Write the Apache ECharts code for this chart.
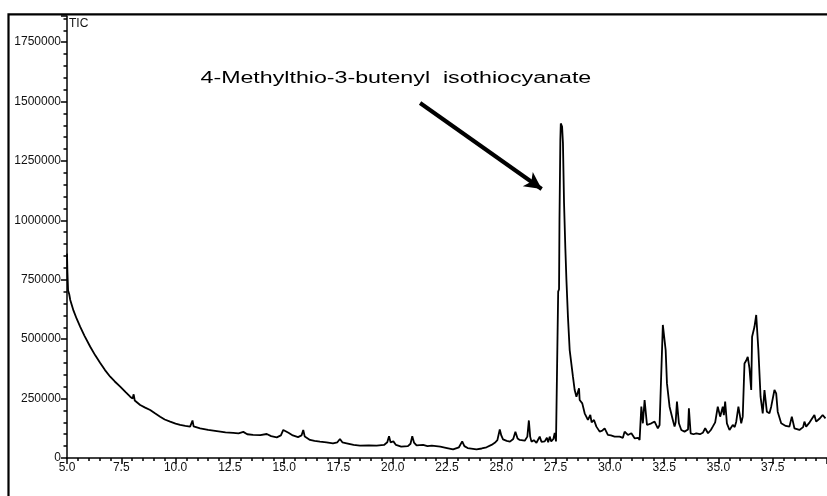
<!DOCTYPE html>
<html><head><meta charset="utf-8">
<script src="https://cdn.jsdelivr.net/npm/echarts@6/dist/echarts.min.js"></script>
<style>html,body{margin:0;padding:0;background:#fff}#c{width:827px;height:496px}</style>
</head><body><div id="c"></div>
<script>
// Retention time (min)
const times = [
5.0,5.02,5.05,5.1,5.15,5.3,5.45,5.61,5.8,6.07,6.3,6.53,6.75,6.99,7.2,7.45,7.7,7.91,8.02,8.07,8.12,8.37,8.6,8.83,9.05,9.29,9.5,9.75,10.0,10.21,10.45,10.67,10.74,10.78,10.83,11.13,11.5,11.9,12.3,12.65,12.9,13.12,13.3,13.57,13.9,14.2,14.4,14.66,14.85,14.96,15.05,15.2,15.4,15.64,15.8,15.88,15.95,16.19,16.4,16.65,16.95,17.25,17.45,17.57,17.68,17.88,18.2,18.49,18.9,19.26,19.6,19.75,19.83,19.9,19.96,20.03,20.15,20.39,20.7,20.82,20.9,20.98,21.1,21.4,21.6,21.8,22.19,22.5,22.78,23.05,23.2,23.3,23.45,23.86,24.1,24.32,24.55,24.7,24.82,24.93,25.0,25.08,25.25,25.4,25.55,25.65,25.75,25.85,26.08,26.2,26.27,26.33,26.39,26.5,26.62,26.77,26.85,27.0,27.1,27.16,27.23,27.3,27.4,27.46,27.52,27.57,27.6,27.62,27.66,27.68,27.72,27.74,27.8,27.84,27.89,27.95,28.0,28.07,28.15,28.3,28.38,28.46,28.52,28.58,28.61,28.73,28.84,28.99,29.1,29.16,29.22,29.27,29.38,29.53,29.65,29.76,29.91,30.05,30.22,30.3,30.45,30.53,30.6,30.68,30.83,30.99,31.14,31.3,31.37,31.45,31.52,31.6,31.71,31.8,31.91,32.06,32.14,32.21,32.29,32.37,32.44,32.52,32.57,32.63,32.75,32.9,32.98,33.03,33.09,33.18,33.29,33.44,33.52,33.6,33.64,33.72,33.85,33.98,34.15,34.28,34.39,34.52,34.65,34.74,34.85,34.97,35.08,35.2,35.25,35.31,35.39,35.51,35.66,35.75,35.82,35.92,36.05,36.12,36.2,36.28,36.35,36.43,36.51,36.55,36.66,36.74,36.84,36.94,37.04,37.12,37.23,37.35,37.43,37.58,37.66,37.73,37.89,38.1,38.27,38.38,38.5,38.73,38.9,38.96,39.04,39.2,39.42,39.5,39.65,39.8,39.93
];
// Total ion current
const intensity = [
860000,780000,705000,690000,665000,620000,585000,552000,515000,468000,432000,400000,370000,342000,322000,300000,277000,258000,250000,268000,242000,223000,212000,202000,188000,174000,162000,153000,145000,139000,135000,132000,140000,158000,133000,125000,118000,113000,108000,106000,104000,110000,100000,97000,96000,101000,92000,87000,95000,118000,112000,106000,95000,88000,95000,118000,90000,76000,72000,69000,66000,62000,66000,80000,66000,62000,55000,52000,53000,52000,55000,66000,92000,66000,60000,70000,55000,48000,50000,60000,92000,65000,53000,55000,50000,52000,48000,42000,36000,45000,70000,50000,42000,36000,40000,45000,55000,64000,75000,120000,95000,78000,72000,69000,80000,110000,82000,76000,73000,90000,158000,90000,69000,75000,64000,90000,68000,70000,85000,66000,90000,70000,80000,106000,70000,64000,68000,700000,710000,1000000,1340000,1408000,1395000,1325000,1073000,883000,749000,594000,454000,342000,286000,258000,262000,293000,244000,230000,188000,160000,181000,150000,146000,160000,132000,111000,115000,125000,97000,95000,90000,83000,90000,97000,85000,111000,97000,104000,83000,85000,76000,216000,146000,244000,139000,145000,146000,153000,160000,125000,139000,132000,560000,567000,454000,314000,216000,160000,132000,150000,237000,146000,118000,111000,104000,120000,209000,104000,100000,104000,100000,106000,125000,104000,118000,132000,150000,216000,174000,216000,180000,237000,146000,118000,139000,130000,153000,216000,146000,174000,398000,410000,426000,377000,286000,510000,552000,602000,454000,258000,188000,286000,195000,188000,216000,286000,272000,195000,146000,135000,132000,174000,125000,118000,130000,153000,132000,150000,181000,153000,165000,181000,167000
];
const yAxisName = 'TIC';
const annotationText = '4-Methylthio-3-butenyl  isothiocyanate';

const chart = echarts.init(document.getElementById('c'), null, {renderer: 'canvas'});
const data = times.map((t, i) => [t, intensity[i]]);
const font = '"Liberation Sans", Arial, sans-serif';
const black = '#000';

const option = {
  animation: false,
  backgroundColor: '#fff',
  grid: {left: 67, right: 0, top: 16, bottom: 38},
  xAxis: {
    type: 'value', min: 5, max: 40, interval: 2.5,
    axisLine: {lineStyle: {color: black, width: 1.5}},
    axisTick: {length: 6, lineStyle: {color: black, width: 1.5}},
    minorTick: {show: true, splitNumber: 5, length: 3, lineStyle: {color: black, width: 1.5}},
    splitLine: {show: false}, minorSplitLine: {show: false},
    axisLabel: {color: '#111', fontSize: 12, fontFamily: font, margin: 4, showMaxLabel: false,
      formatter: v => v.toFixed(1)}
  },
  yAxis: [{
    type: 'value', min: 0, max: 1860000, interval: 250000, position: 'left',
    name: yAxisName, nameLocation: 'end', nameGap: -2,
    nameTextStyle: {color: '#111', fontSize: 12, fontFamily: font, align: 'left', verticalAlign: 'top', padding: [0, 0, 0, 2]},
    axisLine: {lineStyle: {color: black, width: 1.5}},
    axisTick: {length: 6, lineStyle: {color: black, width: 1.5}},
    splitLine: {show: false},
    axisLabel: {color: '#111', fontSize: 12, fontFamily: font, margin: 6,
      formatter: v => (v % 250000 === 0 ? String(v) : '')}
  }, {
    type: 'value', min: 0, max: 1860000, interval: 50000, position: 'left',
    axisLine: {show: false},
    axisTick: {length: 3.5, lineStyle: {color: black, width: 1.5}},
    axisLabel: {show: false}, splitLine: {show: false}
  }],
  series: [{
    type: 'line', data: data, showSymbol: false, symbol: 'none',
    lineStyle: {color: black, width: 1.8}, silent: true,
    markLine: {
      silent: true, symbol: ['none', 'arrow'], symbolSize: [13, 17],
      lineStyle: {color: black, width: 4, type: 'solid'},
      label: {show: false}, emphasis: {disabled: true},
      data: [[{coord: [21.26, 1493900]}, {coord: [26.86, 1132000]}]]
    }
  }],
  graphic: [
    {type: 'polyline', shape: {points: [[8.5, 496], [8.5, 14.3], [827, 14.3]]},
     style: {stroke: black, lineWidth: 2.2, fill: null}, z: 100, silent: true},
    {type: 'text', x: 200.5, y: 70.5, scaleX: 1.45, silent: true,
     style: {text: annotationText, fontSize: 16, fontFamily: font, fill: black, verticalAlign: 'top', align: 'left'}}
  ]
};
chart.setOption(option);
</script>
</body></html>
